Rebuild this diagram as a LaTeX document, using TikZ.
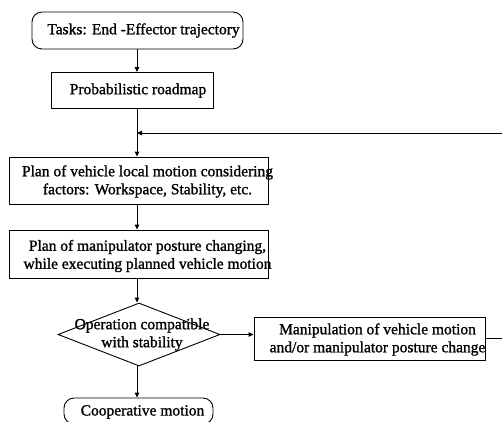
\documentclass[tikz,border=0pt]{standalone}
\usepackage{fontspec}
\setmainfont{Liberation Serif}[BoldFont={Liberation Serif},BoldFeatures={FakeBold=1.2}]
\usetikzlibrary{shapes.geometric,arrows.meta}
\begin{document}
\begin{tikzpicture}[x=1pt,y=-1pt,
  line width=0.9pt,
  txt/.style={font=\fontsize{15.5}{18}\selectfont\bfseries, align=center, inner sep=0pt},
  boxe/.style={draw, rectangle, inner sep=0pt},
  rboxe/.style={draw, rectangle, rounded corners=10pt, inner sep=0pt},
  dia/.style={draw, diamond, inner sep=0pt},
  arr/.style={-{Triangle[length=5pt,width=4.5pt]}},
]
\useasboundingbox (0,0) rectangle (502,421);
\fill[white] (0,0) rectangle (502,421);

\node[rboxe, minimum width=211pt, minimum height=37pt,
  label={[txt,xshift=6pt]center:Tasks: End -Effector trajectory}] (tasks) at (137.5,30.5) {};
\node[boxe, minimum width=162pt, minimum height=36pt,
  label={[txt,xshift=6pt]center:Probabilistic roadmap}] (prm) at (132,90.5) {};
\node[boxe, minimum width=259pt, minimum height=47pt,
  label={[txt,xshift=9pt,yshift=-1pt]center:Plan of vehicle local motion considering\\factors: Workspace, Stability, etc.}] (plan1) at (138.5,180.5) {};
\node[boxe, minimum width=259pt, minimum height=48pt,
  label={[txt,xshift=9pt,yshift=-2pt]center:Plan of manipulator posture changing,\\while executing planned vehicle motion}] (plan2) at (138.5,254) {};
\node[dia, minimum width=162pt, minimum height=63pt,
  label={[txt,xshift=3pt,yshift=0pt]center:Operation compatible\\with stability}] (op) at (139,334.5) {};
\node[boxe, minimum width=231pt, minimum height=43pt,
  label={[txt,xshift=8pt,yshift=-1pt]center:Manipulation of vehicle motion\\and/or manipulator posture change}] (manip) at (369.5,338.5) {};
\node[rboxe, minimum width=149pt, minimum height=26pt,
  label={[txt,xshift=4pt,yshift=-1pt]center:Cooperative motion}] (coop) at (138.5,411) {};

\coordinate (join) at (137,133);
\coordinate (far) at (515,133);
\coordinate (farlow) at (515,338.5);

\draw[arr] (tasks.south -| 137,0) -- (prm.north -| 137,0);
\draw (prm.south -| 137,0) -- (join);
\draw[arr] (join) -- (plan1.north -| 137,0);
\draw[arr] (plan1.south -| 137,0) -- (plan2.north -| 137,0);
\draw[arr] (plan2.south -| 137,0) -- (op.north -| 137,0);
\draw[arr] (op.east) -- (manip.west |- op.east);
\draw[arr] (op.south -| 137,0) -- (coop.north -| 137,0);
\draw[arr] (manip.east) -- (farlow) -- (far) -- (join);
\end{tikzpicture}
\end{document}
